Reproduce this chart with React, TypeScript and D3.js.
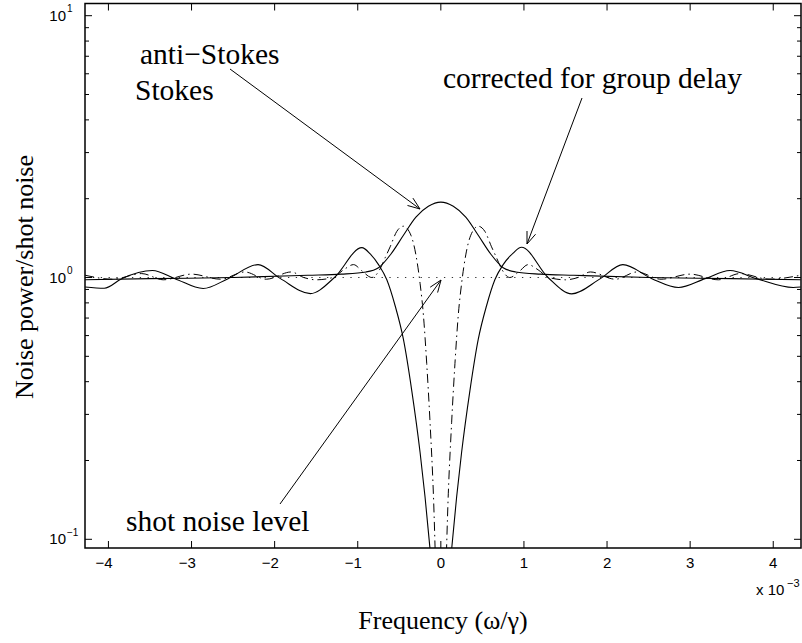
import React from "react";
import * as d3 from "d3";

// ---------- data (frequency in units of 1e-3, power in shot-noise units) ----------
const xTicks = [-4, -3, -2, -1, 0, 1, 2, 3, 4];
const yMajorTicks = [0.1, 1, 10];
const yMajorExp = ["−1", "0", "1"];

// solid oscillating curve ("corrected for group delay")
const corrX = [-4.28, -4.05, -3.84, -3.47, -3.2, -2.86, -2.56, -2.2, -1.93, -1.57, -1.28, -0.95, -0.85, -0.75, -0.65, -0.55, -0.45, -0.35, -0.25, -0.19, -0.12, 0,
  0.12, 0.19, 0.25, 0.35, 0.45, 0.55, 0.65, 0.75, 0.87, 0.97, 1.29, 1.575, 1.92, 2.19, 2.54, 2.86, 3.18, 3.48, 3.8, 4.24, 4.33];
const corrY = [0.92, 0.91, 0.99, 1.063, 0.99, 0.908, 0.99, 1.12, 0.99, 0.868, 1.0, 1.3, 1.23, 1.12, 0.98, 0.78, 0.58, 0.37, 0.215, 0.145, 0.085, 0.04,
  0.085, 0.145, 0.215, 0.37, 0.58, 0.78, 0.98, 1.12, 1.24, 1.305, 1.0, 0.866, 0.99, 1.12, 0.99, 0.916, 0.99, 1.063, 0.99, 0.916, 0.92];

// solid Gaussian-like curve (anti-Stokes / Stokes)
const gaussX = [-4.28, -3.5, -2.5, -1.6, -1.2, -0.9, -0.75, -0.6, -0.45, -0.3, -0.15, 0, 0.15, 0.3, 0.45, 0.6, 0.75, 0.9, 1.2, 1.6, 2.5, 3.5, 4.33];
const gaussY = [0.98, 0.99, 1.0, 1.02, 1.03, 1.05, 1.09, 1.23, 1.45, 1.7, 1.87, 1.94, 1.87, 1.7, 1.45, 1.23, 1.09, 1.05, 1.03, 1.02, 1.0, 0.99, 0.98];

// dash-dot curve
const dashX = [-4.28, -3.95, -3.6, -3.34, -3.0, -2.65, -2.36, -2.1, -1.8, -1.65, -1.5, -1.3, -1.17, -1.05, -0.95, -0.83, -0.73, -0.67, -0.61, -0.53, -0.45, -0.36, -0.3, -0.25, -0.21, -0.17, -0.13, -0.09, -0.05, 0,
  0.05, 0.09, 0.13, 0.17, 0.21, 0.25, 0.3, 0.36, 0.45, 0.53, 0.61, 0.67, 0.73, 0.83, 0.95, 1.05, 1.17, 1.3, 1.5, 1.65, 1.8, 2.1, 2.36, 2.65, 3.0, 3.34, 3.6, 3.95, 4.33];
const dashY = [1.02, 0.985, 1.035, 0.98, 1.03, 0.985, 1.05, 0.985, 1.05, 1.0, 0.98, 1.0, 1.07, 1.12, 1.06, 1.0, 1.08, 1.19, 1.31, 1.5, 1.57, 1.45, 1.22, 0.95, 0.72, 0.47, 0.28, 0.15, 0.06, 0.03,
  0.06, 0.15, 0.28, 0.47, 0.72, 0.95, 1.22, 1.45, 1.57, 1.5, 1.31, 1.19, 1.08, 1.0, 1.06, 1.12, 1.07, 1.0, 0.98, 1.0, 1.05, 0.985, 1.05, 0.985, 1.03, 0.98, 1.035, 0.985, 1.02];

// shot-noise level
const shotX = [-4.28, 4.33];
const shotY = [1, 1];

const annotations = [
  { text: "anti−Stokes", x: 140, y: 64 },
  { text: "Stokes", x: 135, y: 100 },
  { text: "corrected for group delay", x: 443, y: 88 },
  { text: "shot noise level", x: 126, y: 531 },
];
const arrows = [
  { x1: 230, y1: 69, x2: 420, y2: 209 },
  { x1: 582, y1: 98, x2: 527, y2: 244 },
  { x1: 280, y1: 504, x2: 441, y2: 280 },
];

// ---------- layout ----------
const W = 802, H = 643;
const L = 85, R = 801, T = 3.5, B = 548;
const X_MIN = -4.282, X_MAX = 4.334;
const Y_MIN = Math.pow(10, -1.0332), Y_MAX = Math.pow(10, 1.0466);

const SANS = "'Liberation Sans', Arial, Helvetica, sans-serif";
const SERIF = "'Liberation Serif', 'Times New Roman', serif";

export default function App() {
  const x = d3.scaleLinear().domain([X_MIN, X_MAX]).range([L, R]);
  const y = d3.scaleLog().domain([Y_MIN, Y_MAX]).range([B, T]);
  const line = d3
    .line<[number, number]>()
    .x((d) => x(d[0]))
    .y((d) => y(d[1]))
    .curve(d3.curveMonotoneX);
  const zip = (a: number[], b: number[]) => a.map((v, i) => [v, b[i]] as [number, number]);

  const minorTicks: number[] = [];
  [0.1, 1].forEach((dec) => {
    for (let k = 2; k <= 9; k++) minorTicks.push(dec * k);
  });

  const arrowHead = (a: { x1: number; y1: number; x2: number; y2: number }) => {
    const ang = Math.atan2(a.y2 - a.y1, a.x2 - a.x1);
    const len = 13, spread = 0.36;
    const p1 = [a.x2 - len * Math.cos(ang - spread), a.y2 - len * Math.sin(ang - spread)];
    const p2 = [a.x2 - len * Math.cos(ang + spread), a.y2 - len * Math.sin(ang + spread)];
    return `M${p1[0]},${p1[1]}L${a.x2},${a.y2}L${p2[0]},${p2[1]}`;
  };

  return (
    <svg width={W} height={H} style={{ position: "absolute", left: 0, top: 0, background: "#fff" }}>
      <defs>
        <clipPath id="plot">
          <rect x={L} y={T} width={R - L} height={B - T} />
        </clipPath>
      </defs>
      <rect x={0} y={0} width={W} height={H} fill="#fff" />

      <g clipPath="url(#plot)" fill="none">
        <path d={line(zip(shotX, shotY)) || ""} stroke="#333" strokeWidth={1.2} strokeDasharray="1.3,6.5" />
        <path d={line(zip(dashX, dashY)) || ""} stroke="#000" strokeWidth={1} strokeDasharray="9,4,1.5,4" />
        <path d={line(zip(gaussX, gaussY)) || ""} stroke="#000" strokeWidth={1.1} />
        <path d={line(zip(corrX, corrY)) || ""} stroke="#000" strokeWidth={1.1} />
      </g>

      {/* axes box */}
      <rect x={L} y={T} width={R - L} height={B - T} fill="none" stroke="#000" strokeWidth={1.5} />

      {/* x ticks */}
      {xTicks.map((t) => (
        <g key={"xt" + t}>
          <line x1={x(t)} x2={x(t)} y1={B} y2={B - 7} stroke="#000" strokeWidth={1} />
          <line x1={x(t)} x2={x(t)} y1={T} y2={T + 7} stroke="#000" strokeWidth={1} />
          <text x={x(t) + 4.2} y={567.7} textAnchor="end" fontFamily={SANS} fontSize={15}>
            {t < 0 ? "−" + Math.abs(t) : String(t)}
          </text>
        </g>
      ))}

      {/* y ticks */}
      {yMajorTicks.map((t, i) => (
        <g key={"yt" + t}>
          <line x1={L} x2={L + 7} y1={y(t)} y2={y(t)} stroke="#000" strokeWidth={1} />
          <line x1={R} x2={R - 7} y1={y(t)} y2={y(t)} stroke="#000" strokeWidth={1} />
          <text x={66} y={y(t) + 5} textAnchor="end" fontFamily={SANS} fontSize={15}>10</text>
          <text x={67} y={y(t) - 3.5} textAnchor="start" fontFamily={SANS} fontSize={10}>{yMajorExp[i]}</text>
        </g>
      ))}
      {minorTicks.map((t) => (
        <g key={"ym" + t}>
          <line x1={L} x2={L + 4} y1={y(t)} y2={y(t)} stroke="#000" strokeWidth={1} />
          <line x1={R} x2={R - 4} y1={y(t)} y2={y(t)} stroke="#000" strokeWidth={1} />
        </g>
      ))}

      {/* x multiplier */}
      <text x={756} y={595} fontFamily={SANS} fontSize={15}>x 10</text>
      <text x={787} y={587} fontFamily={SANS} fontSize={11}>−3</text>

      {/* axis labels */}
      <text x={443} y={629} textAnchor="middle" fontFamily={SERIF} fontSize={26}>Frequency (ω/γ)</text>
      <text transform="translate(33,277) rotate(-90)" textAnchor="middle" fontFamily={SERIF} fontSize={26}>
        Noise power/shot noise
      </text>

      {/* annotations */}
      {annotations.map((a) => (
        <text key={a.text} x={a.x} y={a.y} fontFamily={SERIF} fontSize={29.5}>{a.text}</text>
      ))}
      {arrows.map((a, i) => (
        <g key={"ar" + i} fill="none" stroke="#000" strokeWidth={1}>
          <line x1={a.x1} y1={a.y1} x2={a.x2} y2={a.y2} />
          <path d={arrowHead(a)} />
        </g>
      ))}
    </svg>
  );
}
